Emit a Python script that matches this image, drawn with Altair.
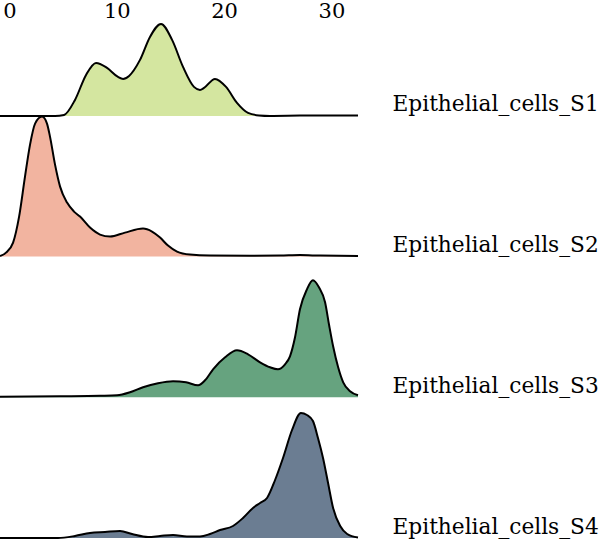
import altair as alt
import pandas as pd

# Ridge names, top to bottom
samples = ["Epithelial_cells_S1", "Epithelial_cells_S2",
           "Epithelial_cells_S3", "Epithelial_cells_S4"]
fills = ["#d4e6a0", "#f2b4a0", "#66a37f", "#6b7d92"]

# Scaled density curves (x, height) for each sample
s1_x = [-0.89, 4.24, 5.08, 6.10, 7.13, 8.06, 9.09, 10.11, 10.58, 11.14, 12.16,
        13.09, 14.12, 15.15, 16.17, 17.19, 17.75, 18.13, 19.15, 20.18, 21.2,
        22.23, 23.25, 24.28, 27.07, 32.48]
s1_y = [0, 0, 1, 16, 41, 53, 48, 39, 37, 40, 56,
        79, 92, 76, 49, 29, 26, 28, 37, 29, 13,
        3, 0.5, 0, 0.3, 0.5]

s2_x = [-0.89, -0.33, 0.33, 0.89, 1.44, 1.91, 2.38, 3.03, 3.49, 3.77, 4.24,
        4.71, 5.36, 6.01, 6.57, 7.50, 8.43, 9.37, 10.76, 12.44, 13.28, 14.03,
        14.77, 15.61, 16.82, 18.69, 22.41, 25.21, 27.07, 28.94, 32.48]
s2_y = [0.5, 4, 14, 40, 80, 112, 133, 140, 133, 120, 92,
        70, 54, 45, 40, 29, 22, 20, 24, 28, 25, 19,
        11, 5, 2, 1, 0.8, 1, 1.5, 1, 0.5]

s3_x = [-0.89, 4.71, 8.43, 10.02, 11.23, 12.44, 13.84, 15.24, 16.45, 17.57,
        18.22, 18.97, 20.09, 21.2, 22.23, 23.35, 24.28, 25.02, 25.68, 26.14,
        26.61, 27.07, 27.72, 28.28, 28.84, 29.41, 29.79, 30.16, 30.63, 31.1,
        31.74, 32.48]
s3_y = [0.5, 1, 1.5, 2, 5, 10, 14, 16, 15, 12,
        17, 28, 40, 47, 43, 35, 30, 28, 33, 41,
        60, 88, 108, 117, 110, 95, 72, 51, 30, 15,
        6, 2]

s4_x = [-0.89, 4.52, 6.10, 7.50, 8.90, 10.30, 11.42, 12.91, 14.03, 15.24,
        16.54, 17.75, 18.69, 19.62, 20.83, 21.76, 22.69, 23.35, 24.0, 24.75,
        25.49, 26.33, 27.16, 27.72, 28.28, 28.75, 29.22, 29.69, 30.16, 30.82,
        31.47, 32.48]
s4_y = [0, 0, 2, 5, 6, 7, 4, 1, 2, 3,
        1.5, 1.5, 4, 8, 12, 20, 30, 35, 40, 58,
        80, 108, 125, 123, 117, 100, 80, 55, 30, 12,
        4, 0.5]

x_ticks = [0, 10, 20, 30]
row_step = 140.7  # vertical distance between ridge baselines

curves = [(s1_x, s1_y), (s2_x, s2_y), (s3_x, s3_y), (s4_x, s4_y)]
frames = []
for i, (name, (xs, ys)) in enumerate(zip(samples, curves)):
    level = len(samples) - 1 - i
    frames.append(pd.DataFrame({"sample": name, "x": xs, "density": ys,
                                "offset": level * row_step}))
df = pd.concat(frames, ignore_index=True)

label_lookup = "[" + ",".join(f"'{s}'" for s in reversed(samples)) + "]"

font = "DejaVu Serif"
x_enc = alt.X("x:Q", scale=alt.Scale(domain=[-0.89, 32.48], nice=False, zero=False),
              axis=alt.Axis(orient="top", values=x_ticks, title=None, ticks=False,
                            domain=False, grid=False, labelFont=font, labelFontSize=21,
                            labelColor="black", labelPadding=1, labelFlush=False))
y_enc = alt.Y("top:Q", scale=alt.Scale(domain=[0, 516], nice=False, zero=False),
              axis=alt.Axis(orient="right",
                            values=[k * row_step for k in range(len(samples))],
                            labelExpr=f"{label_lookup}[round(datum.value / {row_step})]",
                            title=None, ticks=False, domain=False, grid=False,
                            labelFont=font, labelFontSize=21.7, labelColor="black",
                            labelAlign="left", labelBaseline="bottom",
                            labelPadding=34, labelFlush=False, labelLimit=0))

base = alt.Chart(df).transform_calculate(top="datum.offset + datum.density")

areas = base.mark_area(interpolate="monotone", opacity=1).encode(
    x=x_enc,
    y=y_enc,
    y2="offset:Q",
    color=alt.Color("sample:N", scale=alt.Scale(domain=samples, range=fills), legend=None),
)

lines = base.mark_line(interpolate="monotone", color="black", strokeWidth=2).encode(
    x=x_enc,
    y=y_enc,
    detail="sample:N",
)

chart = (areas + lines).properties(
    width=358, height=516,
    autosize=alt.AutoSizeParams(type="none"),
    padding={"left": 0, "top": 22, "right": 242, "bottom": 5},
    background="white",
).configure_view(stroke=None)

chart.save("out.html", embed_options={"renderer": "svg", "actions": False})
